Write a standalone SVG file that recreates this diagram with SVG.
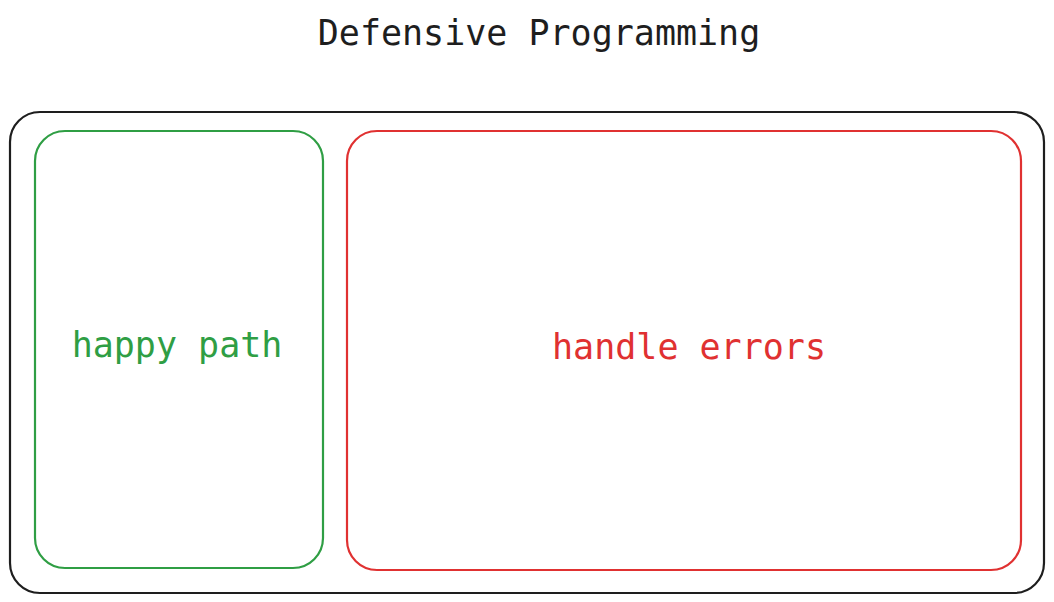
<svg xmlns="http://www.w3.org/2000/svg" width="1054" height="602" viewBox="0 0 1054 602">
<style>
.t{font-family:"DejaVu Sans Mono","Liberation Mono",monospace;font-size:35px;text-anchor:middle}
.b{fill:none;stroke-width:2.2;stroke-linecap:round}
</style>
<rect width="1054" height="602" fill="#ffffff"/>
<g id="title"><text class="t" x="539" y="45" fill="#1e1e1e">Defensive Programming</text></g>
<g id="outer"><rect class="b" x="10" y="112" width="1034" height="481" rx="30" stroke="#1e1e1e"/></g>
<g id="happy">
<rect class="b" x="35" y="131" width="288" height="437" rx="30" stroke="#2f9e44"/>
<text class="t" x="177" y="357" fill="#2f9e44">happy path</text>
</g>
<g id="errors">
<rect class="b" x="347" y="131" width="674" height="439" rx="30" stroke="#e03131"/>
<text class="t" x="689" y="359" fill="#e03131">handle errors</text>
</g>
<g id="connectors"/>
</svg>
